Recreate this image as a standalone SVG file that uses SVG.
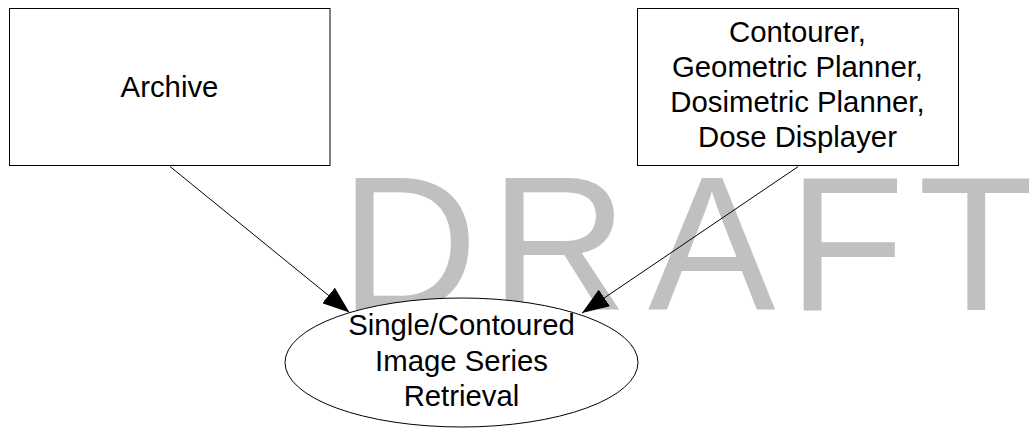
<svg xmlns="http://www.w3.org/2000/svg" width="1029" height="428" viewBox="0 0 1029 428">
  <style>
    .node { fill: #ffffff; stroke: #000000; stroke-width: 1; }
    .label { font-family: "Liberation Sans", Arial, sans-serif; font-size: 29.33px; fill: #000000; text-anchor: middle; }
    .edge { fill: none; stroke: #000000; stroke-width: 1; }
    .watermark { font-family: "Liberation Sans", Arial, sans-serif; font-size: 191px; fill: #c0c0c0; }
  </style>
  <defs>
    <marker id="arrowhead" markerUnits="userSpaceOnUse" markerWidth="28" markerHeight="20" refX="27" refY="10" orient="auto">
      <path d="M0,0 L27,10 L0,20 Z" fill="#000000"/>
    </marker>
  </defs>

  <rect width="1029" height="428" fill="#ffffff"/>

  <!-- watermark behind everything -->
  <text class="watermark" x="340 490 648 788 918" y="310">DRAFT</text>

  <g id="archive">
    <rect class="node" x="9.5" y="8.5" width="320.5" height="157"/>
    <text class="label" x="169.5" y="96.7">Archive</text>
  </g>

  <g id="planners">
    <rect class="node" x="637.5" y="8.5" width="321" height="157"/>
    <text class="label" x="797.5" y="41.7">Contourer,</text>
    <text class="label" x="797.5" y="76.7">Geometric Planner,</text>
    <text class="label" x="797.5" y="111.7">Dosimetric Planner,</text>
    <text class="label" x="797.5" y="146.7">Dose Displayer</text>
  </g>

  <g id="retrieval">
    <ellipse class="node" cx="461.5" cy="362.5" rx="176.5" ry="64.5"/>
    <text class="label" x="461.5" y="335">Single/Contoured</text>
    <text class="label" x="461.5" y="370.5">Image Series</text>
    <text class="label" x="461.5" y="406">Retrieval</text>
  </g>

  <g id="connectors">
    <line class="edge" x1="170" y1="166.5" x2="349.5" y2="312.5" marker-end="url(#arrowhead)"/>
    <line class="edge" x1="798.3" y1="166.5" x2="582" y2="313" marker-end="url(#arrowhead)"/>
  </g>
</svg>
